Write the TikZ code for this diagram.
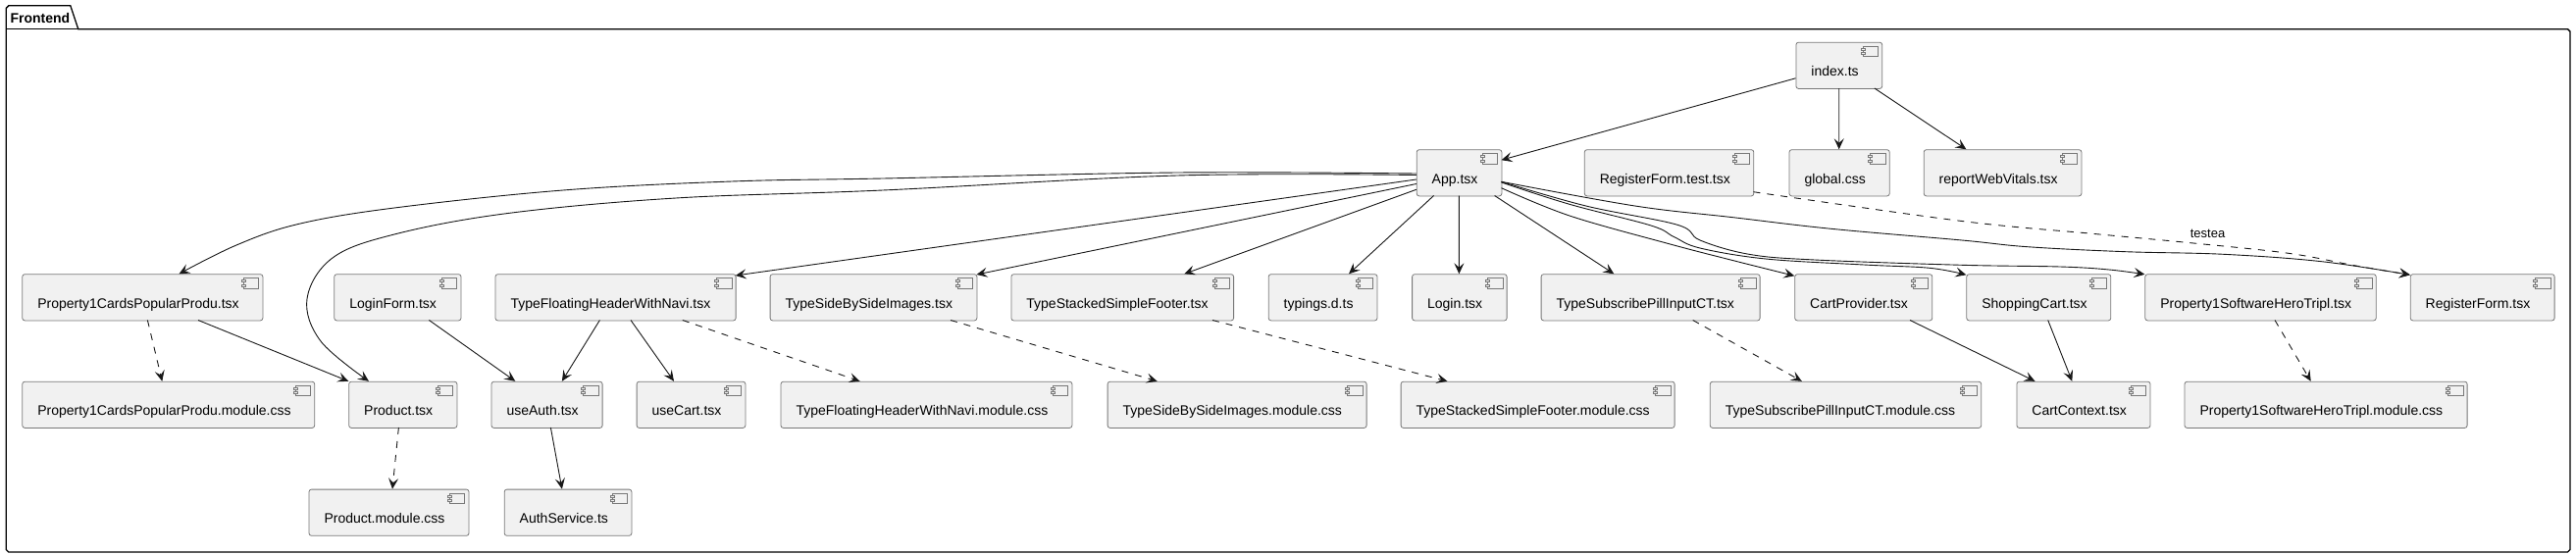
\documentclass[tikz,border=0pt]{standalone}
\usepackage{fontspec}
\setmainfont{Liberation Sans}
\usetikzlibrary{arrows.meta}
\definecolor{boxfill}{HTML}{F1F1F1}
\definecolor{ink}{HTML}{181818}
\definecolor{boxline}{HTML}{787878}
\tikzset{
  comp/.style={draw=boxline,fill=boxfill,line width=0.8pt,rounded corners=2.5pt,anchor=north west,
    inner xsep=15.5pt,inner ysep=0pt,minimum height=47.2pt,font=\fontsize{14}{16}\selectfont,align=left},
  icon/.style={draw=boxline,fill=boxfill,line width=0.8pt},
  dep/.style={draw=ink,line width=0.9pt,-{Stealth[length=11pt,width=10pt,inset=4.5pt]}},
  dashdep/.style={dep,dash pattern=on 7pt off 7pt},
  pkg/.style={draw=black,line width=1.3pt,fill=white},
  pkgtitle/.style={font=\bfseries\fontsize{14}{16}\selectfont,anchor=west,inner sep=0pt},
  edgelabel/.style={font=\fontsize{13}{15}\selectfont,inner sep=0pt}
}
% name, left, right, top, text
\newcommand{\comp}[5]{%
  \pgfmathsetmacro\compw{#3-#2}\pgfmathsetmacro\compt{#3-#2-31}%
  \node[comp,minimum width=\compw pt,text width=\compt pt] (#1) at (#2,#4)
    {\smash{\raisebox{-10.9pt}{#5}}};
  \draw[icon] ([xshift=-20pt,yshift=-4.5pt]#1.north east) rectangle ([xshift=-4.6pt,yshift=-15pt]#1.north east);
  \draw[icon] ([xshift=-22pt,yshift=-6.2pt]#1.north east) rectangle ([xshift=-18pt,yshift=-8.2pt]#1.north east);
  \draw[icon] ([xshift=-22pt,yshift=-10.9pt]#1.north east) rectangle ([xshift=-18pt,yshift=-12.9pt]#1.north east);
}
\newcommand{\rel}[3]{([xshift=#2pt,yshift=-#3pt]#1.north west)}
\begin{document}
\begin{tikzpicture}[x=1pt,y=-1pt]
\useasboundingbox (0,0) rectangle (2626,565);
\path[pkg] (6.3,29.7) -- (6.3,8.3) -- (8.8,5.8) -- (71.8,5.8) -- (79.8,29.7) -- (2617.5,29.7)
  -- (2620,32.2) -- (2620,560.5) -- (2617.5,563) -- (8.8,563) -- (6.3,560.5) -- cycle;
\draw[pkg,fill=none] (6.3,29.7) -- (79.8,29.7);
\node[pkgtitle] (title) at (10.3,18) {Frontend};
\comp{index}{1830.5}{1918.3}{42.8}{index.ts}
\comp{App}{1443.8}{1530.5}{152.3}{App.tsx}
\comp{Test}{1614.9}{1787.4}{152.3}{RegisterForm.test.tsx}
\comp{global}{1823.6}{1925.8}{152.3}{global.css}
\comp{report}{1960.8}{2121.5}{152.3}{reportWebVitals.tsx}
\comp{Cards}{22.4}{267.5}{279.3}{Property1CardsPopularProdu.tsx}
\comp{LoginForm}{340.4}{469.6}{279.3}{LoginForm.tsx}
\comp{TFH}{504.6}{749.7}{279.3}{TypeFloatingHeaderWithNavi.tsx}
\comp{TSBS}{784.7}{995.5}{279.3}{TypeSideBySideImages.tsx}
\comp{TSSF}{1030.5}{1257.2}{279.3}{TypeStackedSimpleFooter.tsx}
\comp{typings}{1292.8}{1403.6}{279.3}{typings.d.ts}
\comp{Login}{1439.2}{1535.7}{279.3}{Login.tsx}
\comp{TSub}{1570.7}{1793.7}{279.3}{TypeSubscribePillInputCT.tsx}
\comp{CartProvider}{1829.3}{1969.4}{279.3}{CartProvider.tsx}
\comp{Shopping}{2004.4}{2151.4}{279.3}{ShoppingCart.tsx}
\comp{PSW}{2186.4}{2421.8}{279.3}{Property1SoftwareHeroTripl.tsx}
\comp{Register}{2456.8}{2603.7}{279.3}{RegisterForm.tsx}
\comp{CardsCss}{22.4}{320.3}{388.8}{Property1CardsPopularProdu.module.css}
\comp{Product}{355.3}{465.5}{388.8}{Product.tsx}
\comp{useAuth}{500.6}{613.7}{388.8}{useAuth.tsx}
\comp{useCart}{648.7}{759.5}{388.8}{useCart.tsx}
\comp{TFHCss}{795.6}{1092.5}{388.8}{TypeFloatingHeaderWithNavi.module.css}
\comp{TSBSCss}{1128.7}{1392.7}{388.8}{TypeSideBySideImages.module.css}
\comp{TSSFCss}{1427.7}{1706.7}{388.8}{TypeStackedSimpleFooter.module.css}
\comp{TSubCss}{1742.9}{2019.3}{388.8}{TypeSubscribePillInputCT.module.css}
\comp{CartContext}{2055.5}{2191.6}{388.8}{CartContext.tsx}
\comp{PSWCss}{2226.6}{2514.7}{388.8}{Property1SoftwareHeroTripl.module.css}
\comp{ProductCss}{314.6}{477.6}{498.7}{Product.module.css}
\comp{AuthService}{513.8}{643.5}{498.7}{AuthService.ts}
% straight
\draw[dep] \rel{index}{0}{37} -- \rel{App}{86.7}{10.9};
\draw[dep] \rel{index}{44.2}{47.2} -- \rel{global}{51.1}{0};
\draw[dep] \rel{index}{80.3}{47.2} -- \rel{report}{43.6}{0};
\draw[dashdep] \rel{Cards}{128}{47.2} -- \rel{CardsCss}{142.9}{0};
\draw[dep] \rel{Cards}{179.6}{47.2} -- \rel{Product}{0}{0};
\draw[dep] \rel{LoginForm}{97}{47.2} -- \rel{useAuth}{24.7}{0};
\draw[dep] \rel{TFH}{106.8}{47.2} -- \rel{useAuth}{72.3}{0};
\draw[dep] \rel{TFH}{138.4}{47.2} -- \rel{useCart}{38.3}{0};
\draw[dashdep] \rel{TFH}{191.2}{47.2} -- \rel{TFHCss}{81}{0};
\draw[dashdep] \rel{Product}{51.1}{47.2} -- \rel{ProductCss}{85.4}{0};
\draw[dep] \rel{useAuth}{60.8}{47.2} -- \rel{AuthService}{59.1}{0};
\draw[dashdep] \rel{TSBS}{184.3}{47.2} -- \rel{TSBSCss}{51}{0};
\draw[dashdep] \rel{TSSF}{205.5}{47.2} -- \rel{TSSFCss}{47.7}{0};
\draw[dashdep] \rel{TSub}{155}{47.2} -- \rel{TSubCss}{93.9}{0};
\draw[dep] \rel{CartProvider}{117.7}{47.2} -- \rel{CartContext}{19}{0};
\draw[dep] \rel{Shopping}{83.3}{47.2} -- \rel{CartContext}{56.8}{0};
\draw[dashdep] \rel{PSW}{132.6}{47.2} -- \rel{PSWCss}{129.1}{0};
\draw[dep] \rel{App}{0}{30.7} -- \rel{TFH}{245.1}{1.7};
\draw[dep] \rel{App}{0}{35.2} -- \rel{TSBS}{210.8}{0.7};
\draw[dep] \rel{App}{0}{41} -- \rel{TSSF}{176.8}{0};
\draw[dep] \rel{App}{17.8}{47.2} -- \rel{typings}{82.2}{0};
\draw[dep] \rel{App}{43.6}{47.2} -- \rel{Login}{48.2}{0};
\draw[dep] \rel{App}{79.8}{47.2} -- \rel{TSub}{74.6}{0};
% curved
\draw[dep] plot[smooth,tension=0.6] coordinates {\rel{App}{0}{24.7} (1200,176) (900,182) (746,185) (574,194) (402,212) (304,228.5) (241,250) \rel{Cards}{160.1}{0}};
\draw[dep] plot[smooth,tension=0.6] coordinates {\rel{App}{0}{26.2} (1200,179) (900,194) (689,202) (517,217.6) (402,239) (339,263) (313,304.7) (327,348) \rel{Product}{20.7}{0}};
\draw[dep] plot[smooth,tension=0.6] coordinates {\rel{App}{86.7}{39.4} (1600,220) (1700,248.3) (1767,265.7) \rel{CartProvider}{0}{2}};
\draw[dep] plot[smooth,tension=0.6] coordinates {\rel{App}{86.7}{33.7} (1600,208.3) (1683,230) (1706.7,241.7) (1733,253) (1800,264) (1900,270) (1967,273.3) \rel{Shopping}{0}{1}};
\draw[dep] plot[smooth,tension=0.6] coordinates {\rel{App}{86.7}{33} (1616.7,210) (1710,229.3) (1733,245) (1783,259.3) (1850,265) (2000,270.3) (2100,272) (2150,275) \rel{PSW}{0}{0.5}};
\draw[dep] plot[smooth,tension=0.6] coordinates {\rel{App}{86.7}{33} (1666.7,210) (1766.7,221.7) (1866.7,233.3) (2000,245) (2066.7,251.7) (2166.7,256.7) (2266.7,259.3) (2366.7,266.7) \rel{Register}{0}{1}};
\draw[dashdep] plot[smooth,tension=0.6] coordinates {\rel{Test}{172.5}{43.4} (2000,225.5) (2133,238.3) (2233,247.7) (2333,258.3) (2400,270.7) \rel{Register}{0}{1}};
\node[edgelabel] (testea) at (2250.5,238.5) {testea};
\end{tikzpicture}
\end{document}
